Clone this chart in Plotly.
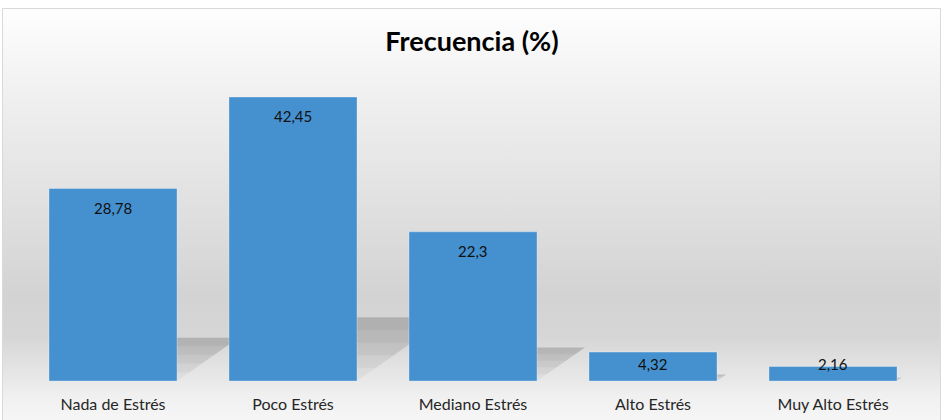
import base64
import plotly.graph_objects as go

categorias = ["Nada de Estrés", "Poco Estrés", "Mediano Estrés", "Alto Estrés", "Muy Alto Estrés"]
frecuencia = [28.78, 42.45, 22.3, 4.32, 2.16]

BAR = "#4590cf"
FONT = "Lato"

# layout in pixels (943x420)
W, H = 943, 420
ML, MR, MT, MB = 23, 20, 60, 39
Y_MAX = 48
px_per_y = (H - MT - MB) / Y_MAX
px_per_x = (W - ML - MR) / len(categorias)
half = 0.3556

# fondo degradado estilo Excel
svg = """<svg xmlns='http://www.w3.org/2000/svg' width='100' height='100' viewBox='0 0 100 100' preserveAspectRatio='none'>
<defs><linearGradient id='g' x1='0' y1='0' x2='0' y2='1'>
<stop offset='0' stop-color='#fefefe'/>
<stop offset='0.22' stop-color='#efefef'/>
<stop offset='0.47' stop-color='#e0e0e0'/>
<stop offset='0.68' stop-color='#d3d3d3'/>
<stop offset='0.78' stop-color='#d6d6d6'/>
<stop offset='0.88' stop-color='#e8e8e8'/>
<stop offset='0.92' stop-color='#f0f0f0'/>
<stop offset='1' stop-color='#f8f8f8'/>
</linearGradient></defs>
<rect x='0' y='0' width='100' height='100' fill='url(#g)'/></svg>"""
src = "data:image/svg+xml;base64," + base64.b64encode(svg.encode()).decode()


def px_to_paper_x(p):
    return (p - ML) / (W - ML - MR)


def px_to_paper_y(p):
    return (H - MB - p) / (H - MT - MB)


fig = go.Figure()

fig.add_trace(go.Bar(
    x=list(range(len(categorias))), y=frecuencia,
    marker=dict(color=BAR, line=dict(color="rgba(255,255,255,0.3)", width=1)),
    width=2 * half, hoverinfo="x+y", showlegend=False
))

# sombras en perspectiva detrás de las barras (más oscuras arriba)
shapes = []
for i, v in enumerate(frecuencia):
    h = 0.225 * v
    off = (h * px_per_y / 0.7) / px_per_x
    for a in [0.0, 0.2, 0.4, 0.6, 0.8]:
        path = (f"M {i - half + off * a},{h * a} L {i + half + off * a},{h * a} "
                f"L {i + half + off},{h} L {i - half + off},{h} Z")
        shapes.append(dict(type="path", path=path, xref="x", yref="y",
                           fillcolor="rgba(0,0,0,0.035)", line=dict(width=0),
                           layer="below"))

# borde del área del gráfico
shapes.append(dict(type="rect", xref="paper", yref="paper",
                   x0=px_to_paper_x(2.5), x1=px_to_paper_x(940.5),
                   y0=px_to_paper_y(430), y1=px_to_paper_y(8.5),
                   line=dict(color="#d9d9d9", width=1), layer="below"))

# etiquetas de datos (dentro, extremo superior)
for i, v in enumerate(frecuencia):
    off = min(19, v * px_per_y - 17)
    fig.add_annotation(x=i, y=v, text=f"{v}".replace(".", ","),
                       showarrow=False, yanchor="middle", yshift=-off,
                       font=dict(family=FONT, size=15, color="#111111"))

fig.update_layout(
    width=W, height=H,
    margin=dict(l=ML, r=MR, t=MT, b=MB),
    paper_bgcolor="white", plot_bgcolor="rgba(0,0,0,0)",
    title=dict(text="<b>Frecuencia (%)</b>", x=px_to_paper_x(472),
               xref="paper", y=1 - 42 / H, yref="container",
               xanchor="center", yanchor="middle",
               font=dict(family=FONT, size=27, color="#000000")),
    images=[dict(source=src, xref="paper", yref="paper",
                 x=px_to_paper_x(2.5), y=px_to_paper_y(8.5),
                 sizex=px_to_paper_x(940.5) - px_to_paper_x(2.5),
                 sizey=px_to_paper_y(8.5) - px_to_paper_y(430),
                 xanchor="left", yanchor="top", sizing="stretch",
                 layer="below")],
    shapes=shapes,
    bargap=0.289,
    xaxis=dict(tickmode="array", tickvals=list(range(len(categorias))),
               ticktext=categorias, range=[-0.5, len(categorias) - 0.5],
               showgrid=False, zeroline=False, showline=False, ticks="",
               ticklabelstandoff=12, automargin=False,
               tickfont=dict(family=FONT, size=16, color="#262626")),
    yaxis=dict(range=[0, Y_MAX], visible=False, showgrid=False, zeroline=False,
               automargin=False),
)

fig.write_html("out.html", config={"displayModeBar": False},
               post_script="document.body.style.margin='0';")
